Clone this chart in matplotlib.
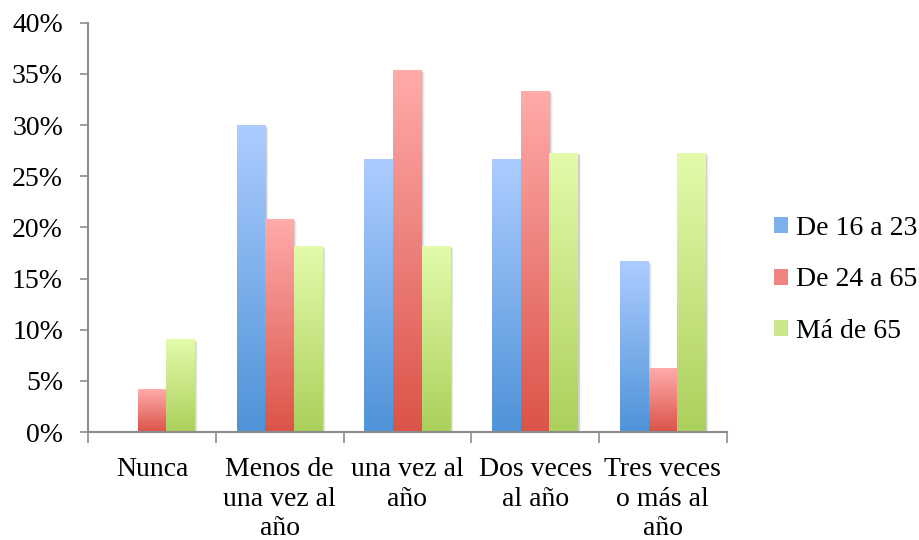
import numpy as np
import matplotlib
matplotlib.use("Agg")
import matplotlib.pyplot as plt
from matplotlib.patches import Patch, Rectangle
from matplotlib.colors import to_rgb

categories = ["Nunca", "Menos de\nuna vez al\naño", "una vez al\naño",
              "Dos veces\nal año", "Tres veces\no más al\naño"]
series_names = ["De 16 a 23", "De 24 a 65", "Má de 65"]
de_16_a_23 = [0.0, 30.0, 26.67, 26.67, 16.67]
de_24_a_65 = [4.17, 20.83, 35.42, 33.33, 6.25]
mas_de_65 = [9.09, 18.18, 18.18, 27.27, 27.27]
y_ticks = [0, 5, 10, 15, 20, 25, 30, 35, 40]

series = [de_16_a_23, de_24_a_65, mas_de_65]
# (top colour, bottom colour) for each series gradient
gradients = [("#acccff", "#4f93d8"),
             ("#ffabaa", "#db5449"),
             ("#e3fbab", "#acd05c")]
legend_colors = ["#7eb0ec", "#ef8580", "#c8e68a"]

plt.rcParams["font.family"] = ["Liberation Serif", "DejaVu Serif"]
FS = 20

fig = plt.figure(figsize=(9.19, 5.40), dpi=100)
ax = fig.add_axes([0.0958, 0.2, 0.695, 0.758])

n = len(categories)
x = np.arange(n)
width = 0.224

def gradient_image(top, bottom, steps=64):
    t = np.linspace(0, 1, steps)[:, None]
    a = np.array(to_rgb(top))
    b = np.array(to_rgb(bottom))
    return (a * (1 - t) + b * t)[:, None, :]

for i, (vals, (top, bottom)) in enumerate(zip(series, gradients)):
    offs = (i - 1) * width
    for xi, v in zip(x, vals):
        if v <= 0:
            continue
        left = xi + offs - width / 2
        # soft drop shadow
        for k, a in enumerate([0.10, 0.06, 0.03]):
            sh = Rectangle((left + 0.012 + 0.006 * k, 0), width, v - 0.15 - 0.05 * k,
                           facecolor="black", alpha=a, edgecolor="none", zorder=1)
            ax.add_patch(sh)
        rect = Rectangle((left, 0), width, v, facecolor="none", edgecolor="none", zorder=2)
        ax.add_patch(rect)
        im = ax.imshow(gradient_image(top, bottom), extent=(left, left + width, 0, v),
                       aspect="auto", origin="upper", zorder=2, interpolation="bilinear")
        im.set_clip_path(rect)

ax.set_xlim(-0.5, n - 0.5)
ax.set_ylim(0, 40)

ax.set_yticks(y_ticks)
ax.set_yticklabels([f"{t}%" for t in y_ticks])
ax.set_xticks(np.arange(-0.5, n, 1.0))
ax.set_xticklabels([])
ax.set_xticks(x, minor=True)
ax.set_xticklabels(categories, minor=True, linespacing=1.24)
ax.tick_params(axis="x", which="minor", length=0, pad=18, labelsize=FS)
ax.tick_params(axis="x", which="major", length=8, width=1.2, color="#8c8c8c", direction="out")
ax.tick_params(axis="y", length=6, width=1.2, color="#8c8c8c", direction="out",
               labelsize=FS, pad=12)

for s in ["top", "right"]:
    ax.spines[s].set_visible(False)
for s in ["left", "bottom"]:
    ax.spines[s].set_color("#8c8c8c")
    ax.spines[s].set_linewidth(1.5)

handles = [Patch(facecolor=c, edgecolor="none", label=lab)
           for c, lab in zip(legend_colors, series_names)]
fig.legend(handles=handles, loc="center left", bbox_to_anchor=(0.842, 0.4815),
           frameon=False, fontsize=FS, handlelength=0.5, handleheight=0.5,
           handletextpad=0.3, labelspacing=0.95, borderpad=0, borderaxespad=0)

fig.savefig("out.png", dpi=100)
